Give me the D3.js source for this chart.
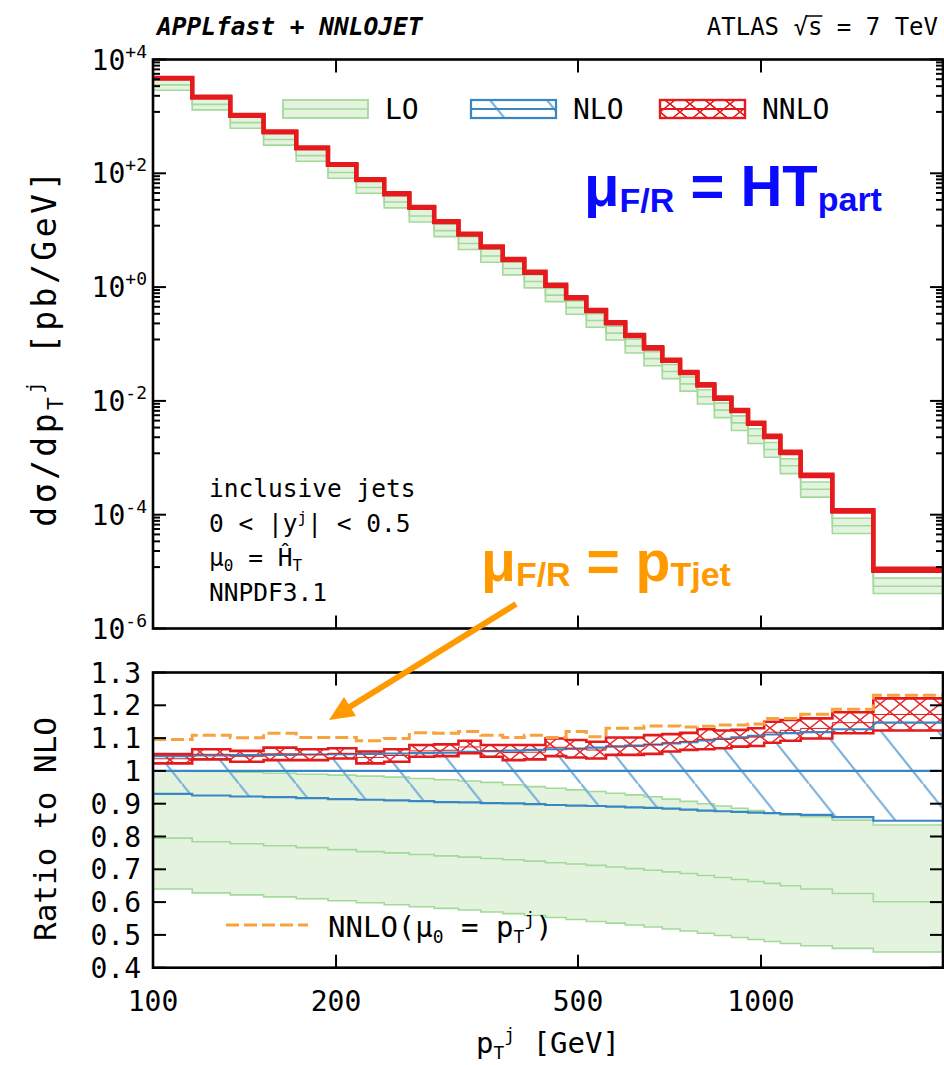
<!DOCTYPE html>
<html><head><meta charset="utf-8">
<script src="https://cdn.jsdelivr.net/npm/d3@7"></script>
<style>
html,body{margin:0;padding:0;background:#fff;}
svg{display:block;}
</style></head><body>
<svg id="chart" width="944" height="1065"></svg>
<script>
// ATLAS 7 TeV inclusive jets, |y| < 0.5 : pT bin edges [GeV]
const binEdges = [100,116,134,152,172,194,216,240,264,290,318,346,376,408,442,478,516,556,598,642,688,736,786,838,894,952,1012,1076,1162,1310,1530,1992];

// NNLO central cross section dσ/dpT [pb/GeV]
const nnloXsec = [4677,2181,1042,535,280,143,77.8,43.7,25.3,14.1,8.51,5.09,3.07,1.83,1.076,0.649,0.387,0.236,0.141,0.0857,0.0517,0.0316,0.0191,0.0112,0.00676,0.00406,0.00238,0.00125,4.93e-4,1.17e-4,1.08e-5];

// ratios to NLO central
const loRatioLow     = [0.640,0.628,0.622,0.616,0.610,0.604,0.598,0.592,0.586,0.581,0.576,0.570,0.565,0.559,0.553,0.547,0.541,0.536,0.530,0.524,0.518,0.512,0.505,0.498,0.492,0.486,0.480,0.474,0.467,0.459,0.448];
const loRatioCentral = [0.795,0.784,0.778,0.772,0.766,0.760,0.754,0.750,0.745,0.741,0.737,0.733,0.729,0.725,0.720,0.716,0.712,0.707,0.702,0.697,0.692,0.687,0.681,0.675,0.669,0.663,0.657,0.650,0.640,0.626,0.601];
const loRatioHigh    = [1.000,0.998,0.996,0.993,0.990,0.987,0.984,0.981,0.977,0.973,0.969,0.965,0.958,0.952,0.947,0.942,0.937,0.932,0.927,0.921,0.914,0.907,0.900,0.893,0.886,0.879,0.872,0.866,0.860,0.850,0.835];
const nloRatioLow    = [0.930,0.925,0.922,0.920,0.917,0.914,0.912,0.910,0.908,0.905,0.904,0.902,0.901,0.899,0.896,0.894,0.893,0.891,0.889,0.887,0.885,0.882,0.879,0.877,0.875,0.873,0.871,0.868,0.866,0.859,0.848];
const nloRatioHigh   = [1.045,1.047,1.048,1.049,1.050,1.051,1.052,1.053,1.054,1.056,1.058,1.060,1.062,1.064,1.066,1.068,1.071,1.074,1.077,1.080,1.084,1.088,1.093,1.098,1.102,1.107,1.111,1.115,1.118,1.127,1.147];
const nnloRatioLow   = [1.023,1.035,1.028,1.033,1.033,1.038,1.023,1.028,1.043,1.045,1.054,1.043,1.033,1.035,1.045,1.041,1.038,1.049,1.049,1.052,1.059,1.064,1.066,1.069,1.074,1.076,1.086,1.092,1.099,1.115,1.123];
const nnloRatioHigh  = [1.051,1.066,1.061,1.071,1.066,1.069,1.059,1.066,1.079,1.081,1.092,1.079,1.079,1.079,1.099,1.094,1.089,1.102,1.102,1.109,1.112,1.116,1.127,1.123,1.125,1.130,1.150,1.155,1.160,1.179,1.221];
// NNLO with mu0 = pT(jet), ratio to NLO (HT scale)
const nnloPtRatio    = [1.096,1.109,1.101,1.115,1.102,1.102,1.092,1.099,1.116,1.115,1.120,1.109,1.102,1.109,1.102,1.120,1.104,1.130,1.130,1.137,1.137,1.134,1.136,1.140,1.140,1.143,1.160,1.160,1.173,1.188,1.231];

// axis ticks
const xTickValues = [100,200,500,1000];
const xTickLabels = ["100","200","500","1000"];
const upperTickExps = [4,2,0,-2,-4,-6];
const upperTickLabels = ["+4","+2","+0","-2","-4","-6"];
const ratioTickValues = [0.4,0.5,0.6,0.7,0.8,0.9,1.0,1.1,1.2,1.3];
const ratioTickLabels = ["0.4","0.5","0.6","0.7","0.8","0.9","1","1.1","1.2","1.3"];

const MONO = "'DejaVu Sans Mono', 'Liberation Mono', monospace";
const SANS = "'Liberation Sans', Arial, sans-serif";
const C = {
  greenFill: "#e3f3de", greenLine: "#a3da9c",
  blue: "#3a86c2", blueHatch: "#7db2dc",
  red: "#e41a1c", orange: "#f7a23c", annOrange: "#ff9900", annBlue: "#0a0aff"
};
const FS = 28;     // tick label / legend size
const FSsub = 18;

const svg = d3.select("#chart");
const plotL = 153, plotR = 943;
const upT = 59.5, upB = 628.5, loT = 672.5, loB = 967.7;

const x = d3.scaleLog().domain([100, 1992]).range([plotL, plotR]);
const yUp = d3.scaleLog().domain([1e-6, 1e4]).range([upB, upT]);
const yLo = d3.scaleLinear().domain([0.4, 1.3]).range([loB, loT]);

const nnloMid = nnloRatioLow.map((l, i) => (l + nnloRatioHigh[i]) / 2);
const nloXsec = nnloXsec.map((v, i) => v / nnloMid[i]);

// ---------- patterns ----------
const defs = svg.append("defs");
function hatchPattern(id, w, h, dx, lines, color, width) {
  const p = defs.append("pattern").attr("id", id).attr("patternUnits", "userSpaceOnUse")
    .attr("x", dx).attr("y", 0).attr("width", w).attr("height", h);
  lines.forEach(([x1, y1, x2, y2]) => p.append("line")
    .attr("x1", x1).attr("y1", y1).attr("x2", x2).attr("y2", y2)
    .attr("stroke", color).attr("stroke-width", width));
}
{
  const w = 57, h = 71.25;
  hatchPattern("nloHatch", w, h, 11, [[0,0,w,h],[-w,-h,0,0],[w,h,2*w,2*h],[w,-h,2*w,0],[-w,0,0,h]], C.blueHatch, 2.2);
  const a = 20, b = 16;
  hatchPattern("nnloCross", a, b, 0, [[0,0,a,b],[a,0,0,b],[-a,-b,a,b],[0,0,2*a,2*b],[2*a,-b,-a,2*b]], C.red, 1.1);
}
defs.append("clipPath").attr("id", "clipUp").append("rect")
  .attr("x", plotL).attr("y", upT).attr("width", plotR - plotL).attr("height", upB - upT);
defs.append("clipPath").attr("id", "clipLo").append("rect")
  .attr("x", plotL).attr("y", loT).attr("width", plotR - plotL).attr("height", loB - loT);

// ---------- step helpers ----------
function stepPts(fn) {
  const pts = [];
  for (let i = 0; i < binEdges.length - 1; i++) {
    const d = fn(i);
    pts.push(Object.assign({ e: binEdges[i] }, d));
    pts.push(Object.assign({ e: binEdges[i + 1] }, d));
  }
  return pts;
}
const lineGen = (ys) => d3.line().x(d => x(d.e)).y(d => ys(d.v));
const areaGen = (ys) => d3.area().x(d => x(d.e)).y0(d => ys(d.lo)).y1(d => ys(d.hi));

// ---------- upper panel ----------
const gUp = svg.append("g").attr("clip-path", "url(#clipUp)");
const loBandUp = stepPts(i => ({ lo: nloXsec[i] * loRatioLow[i], hi: nloXsec[i] * loRatioHigh[i] }));
gUp.append("path").attr("d", areaGen(yUp)(loBandUp)).attr("fill", C.greenFill);
[loRatioLow, loRatioCentral, loRatioHigh].forEach(r => {
  gUp.append("path").attr("d", lineGen(yUp)(stepPts(i => ({ v: nloXsec[i] * r[i] }))))
    .attr("fill", "none").attr("stroke", C.greenLine).attr("stroke-width", 1.6);
});
const nnloBandUp = stepPts(i => ({ lo: nloXsec[i] * nnloRatioLow[i], hi: nloXsec[i] * nnloRatioHigh[i] }));
gUp.append("path").attr("d", areaGen(yUp)(nnloBandUp)).attr("fill", C.red);
[nnloRatioLow, nnloRatioHigh].forEach(r => {
  gUp.append("path").attr("d", lineGen(yUp)(stepPts(i => ({ v: nloXsec[i] * r[i] }))))
    .attr("fill", "none").attr("stroke", C.red).attr("stroke-width", 4.4);
});

// ---------- lower panel ----------
const gLo = svg.append("g").attr("clip-path", "url(#clipLo)");
gLo.append("path").attr("d", areaGen(yLo)(stepPts(i => ({ lo: loRatioLow[i], hi: loRatioHigh[i] }))))
  .attr("fill", C.greenFill);
[loRatioLow, loRatioCentral, loRatioHigh].forEach(r => {
  gLo.append("path").attr("d", lineGen(yLo)(stepPts(i => ({ v: r[i] }))))
    .attr("fill", "none").attr("stroke", C.greenLine).attr("stroke-width", 1.6);
});
gLo.append("path").attr("d", areaGen(yLo)(stepPts(i => ({ lo: nloRatioLow[i], hi: nloRatioHigh[i] }))))
  .attr("fill", "url(#nloHatch)");
const nnloBandLo = areaGen(yLo)(stepPts(i => ({ lo: nnloRatioLow[i], hi: nnloRatioHigh[i] })));
gLo.append("path").attr("d", nnloBandLo).attr("fill", "#fff");
gLo.append("path").attr("d", nnloBandLo).attr("fill", "url(#nnloCross)").attr("opacity", 0.9);
[nloRatioLow, nloRatioHigh, binEdges.slice(1).map(() => 1)].forEach(r => {
  gLo.append("path").attr("d", lineGen(yLo)(stepPts(i => ({ v: r[i] }))))
    .attr("fill", "none").attr("stroke", C.blue).attr("stroke-width", 2.2);
});
[nnloRatioLow, nnloRatioHigh].forEach(r => {
  gLo.append("path").attr("d", lineGen(yLo)(stepPts(i => ({ v: r[i] }))))
    .attr("fill", "none").attr("stroke", C.red).attr("stroke-width", 2.6);
});
gLo.append("path").attr("d", lineGen(yLo)(stepPts(i => ({ v: nnloMid[i] }))))
  .attr("fill", "none").attr("stroke", C.red).attr("stroke-width", 1);
gLo.append("path").attr("d", lineGen(yLo)(stepPts(i => ({ v: nnloPtRatio[i] }))))
  .attr("fill", "none").attr("stroke", C.orange).attr("stroke-width", 3).attr("stroke-dasharray", "13,5");

// ---------- frames and ticks ----------
const gAx = svg.append("g").attr("stroke", "#000").attr("fill", "none");
function frame(top, bottom) {
  gAx.append("rect").attr("x", plotL).attr("y", top).attr("width", plotR - plotL).attr("height", bottom - top)
    .attr("stroke-width", 2.6);
  xTickValues.slice(1).forEach(v => {
    gAx.append("line").attr("x1", x(v)).attr("x2", x(v)).attr("y1", bottom).attr("y2", bottom - 13).attr("stroke-width", 2);
    gAx.append("line").attr("x1", x(v)).attr("x2", x(v)).attr("y1", top).attr("y2", top + 13).attr("stroke-width", 2);
  });
}
frame(upT, upB);
frame(loT, loB);
function yTick(yPos, len) {
  gAx.append("line").attr("x1", plotL).attr("x2", plotL + len).attr("y1", yPos).attr("y2", yPos).attr("stroke-width", 2);
  gAx.append("line").attr("x1", plotR).attr("x2", plotR - len).attr("y1", yPos).attr("y2", yPos).attr("stroke-width", 2);
}
upperTickExps.forEach(e => yTick(yUp(Math.pow(10, e)), 13));
for (let k = 0; k < upperTickExps.length - 1; k++) {
  const hi = Math.pow(10, upperTickExps[k]), lo = Math.pow(10, upperTickExps[k + 1]);
  for (let j = 1; j <= 8; j++) yTick(yUp(lo + j * (hi - lo) / 9), 7);
}
ratioTickValues.forEach(v => yTick(yLo(v), 13));

// ---------- tick labels ----------
const gT = svg.append("g").attr("font-family", MONO).attr("fill", "#000");
upperTickExps.forEach((e, i) => {
  const t = gT.append("text").attr("x", 147).attr("y", yUp(Math.pow(10, e)) + 10)
    .attr("text-anchor", "end").attr("font-size", FS);
  t.append("tspan").text("10");
  t.append("tspan").attr("dy", -12).attr("font-size", FSsub).text(upperTickLabels[i]);
});
ratioTickValues.forEach((v, i) => {
  gT.append("text").attr("x", 141).attr("y", yLo(v) + 10).attr("text-anchor", "end")
    .attr("font-size", FS).text(ratioTickLabels[i]);
});
xTickValues.forEach((v, i) => {
  gT.append("text").attr("x", x(v)).attr("y", 1011).attr("text-anchor", "middle")
    .attr("font-size", FS).text(xTickLabels[i]);
});

// axis titles
{
  const t = gT.append("text").attr("x", 548).attr("y", 1053).attr("text-anchor", "middle").attr("font-size", 29);
  t.append("tspan").text("p");
  t.append("tspan").attr("dy", 6).attr("font-size", FSsub).text("T");
  t.append("tspan").attr("dy", -18).attr("font-size", FSsub).text("j");
  t.append("tspan").attr("dy", 12).text(" [GeV]");
}
{
  const t = gT.append("text").attr("transform", "translate(56,347) rotate(-90)")
    .attr("text-anchor", "middle").attr("font-size", 33).attr("letter-spacing", 3.5);
  t.append("tspan").text("dσ/dp");
  t.append("tspan").attr("dy", 7).attr("font-size", 21).text("T");
  t.append("tspan").attr("dy", -21).attr("font-size", 21).text("j");
  t.append("tspan").attr("dy", 14).text(" [pb/GeV]");
}
gT.append("text").attr("transform", "translate(56,829) rotate(-90)")
  .attr("text-anchor", "middle").attr("font-size", 31).text("Ratio to NLO");

// header
gT.append("text").attr("x", 157).attr("y", 35).attr("font-size", 24.5)
  .attr("font-weight", "bold").attr("font-style", "italic").text("APPLfast + NNLOJET");
{
  const t = gT.append("text").attr("x", 938).attr("y", 35).attr("text-anchor", "end")
    .attr("font-size", 24).text("ATLAS √s = 7 TeV");
  const node = t.node();
  const r = node.getExtentOfChar(6), s = node.getExtentOfChar(7);
  gT.append("line").attr("x1", r.x + r.width - 2).attr("x2", s.x + s.width)
    .attr("y1", r.y + 3).attr("y2", r.y + 3).attr("stroke", "#000").attr("stroke-width", 1.5);
}

// process / selection block
{
  const fs = 24.5, x0 = 209;
  gT.append("text").attr("x", x0).attr("y", 497).attr("font-size", fs).text("inclusive jets");
  const t2 = gT.append("text").attr("x", x0).attr("y", 531.5).attr("font-size", fs);
  t2.append("tspan").text("0 < |y");
  t2.append("tspan").attr("dy", -9).attr("font-size", 16).text("j");
  t2.append("tspan").attr("dy", 9).text("| < 0.5");
  const t3 = gT.append("text").attr("x", x0).attr("y", 566).attr("font-size", fs);
  t3.append("tspan").text("μ");
  t3.append("tspan").attr("dy", 5).attr("font-size", 16).text("0");
  t3.append("tspan").attr("dy", -5).text(" = Ĥ");
  t3.append("tspan").attr("dy", 5).attr("font-size", 16).text("T");
  gT.append("text").attr("x", x0).attr("y", 600.5).attr("font-size", fs).text("NNPDF3.1");
}

// ---------- legends ----------
const gL = svg.append("g");
{
  gL.append("rect").attr("x", 283).attr("y", 100).attr("width", 85).attr("height", 18)
    .attr("fill", C.greenFill).attr("stroke", C.greenLine).attr("stroke-width", 1.8);
  gL.append("line").attr("x1", 283).attr("x2", 368).attr("y1", 109).attr("y2", 109)
    .attr("stroke", C.greenLine).attr("stroke-width", 1.6);
  gT.append("text").attr("x", 385).attr("y", 119).attr("font-size", FS).text("LO");
}
{
  gL.append("rect").attr("x", 471).attr("y", 100).attr("width", 85).attr("height", 18)
    .attr("fill", "url(#nloHatch)").attr("stroke", C.blue).attr("stroke-width", 2.2);
  gL.append("line").attr("x1", 471).attr("x2", 556).attr("y1", 109).attr("y2", 109)
    .attr("stroke", C.blue).attr("stroke-width", 2.2);
  gT.append("text").attr("x", 573).attr("y", 119).attr("font-size", FS).text("NLO");
}
{
  gL.append("rect").attr("x", 660).attr("y", 100).attr("width", 85).attr("height", 18)
    .attr("fill", "url(#nnloCross)").attr("stroke", C.red).attr("stroke-width", 2.4);
  gL.append("line").attr("x1", 660).attr("x2", 745).attr("y1", 109).attr("y2", 109)
    .attr("stroke", C.red).attr("stroke-width", 1.8);
  gT.append("text").attr("x", 762).attr("y", 119).attr("font-size", FS).text("NNLO");
}
{
  gL.append("line").attr("x1", 226).attr("x2", 308).attr("y1", 925).attr("y2", 925)
    .attr("stroke", C.orange).attr("stroke-width", 3).attr("stroke-dasharray", "13,5");
  const t = gT.append("text").attr("x", 328).attr("y", 937).attr("font-size", 29);
  t.append("tspan").text("NNLO(μ");
  t.append("tspan").attr("dy", 6).attr("font-size", FSsub).text("0");
  t.append("tspan").attr("dy", -6).text(" = p");
  t.append("tspan").attr("dy", 6).attr("font-size", FSsub).text("T");
  t.append("tspan").attr("dy", -18).attr("font-size", FSsub).text("j");
  t.append("tspan").attr("dy", 12).text(")");
}

// ---------- scale-choice annotations ----------
{
  const t = svg.append("text").attr("x", 584).attr("y", 206).attr("font-family", SANS)
    .attr("font-weight", "bold").attr("fill", C.annBlue).attr("font-size", 58);
  t.append("tspan").text("μ");
  t.append("tspan").attr("dy", 6).attr("font-size", 34).text("F/R");
  t.append("tspan").attr("dy", -6).text(" = HT");
  t.append("tspan").attr("dy", 5).attr("font-size", 34).text("part");
}
{
  const t = svg.append("text").attr("x", 481).attr("y", 581).attr("font-family", SANS)
    .attr("font-weight", "bold").attr("fill", C.annOrange).attr("font-size", 57);
  t.append("tspan").text("μ");
  t.append("tspan").attr("dy", 5).attr("font-size", 34).text("F/R");
  t.append("tspan").attr("dy", -5).text(" = p");
  t.append("tspan").attr("dy", 5).attr("font-size", 34).text("Tjet");
  // arrow pointing at the pT-scale curve
  svg.append("line").attr("x1", 516).attr("y1", 604).attr("x2", 348).attr("y2", 708)
    .attr("stroke", C.annOrange).attr("stroke-width", 6).attr("stroke-linecap", "butt");
  svg.append("polygon").attr("points", "329,720 356,716 344,697").attr("fill", C.annOrange);
}
</script>
</body></html>
